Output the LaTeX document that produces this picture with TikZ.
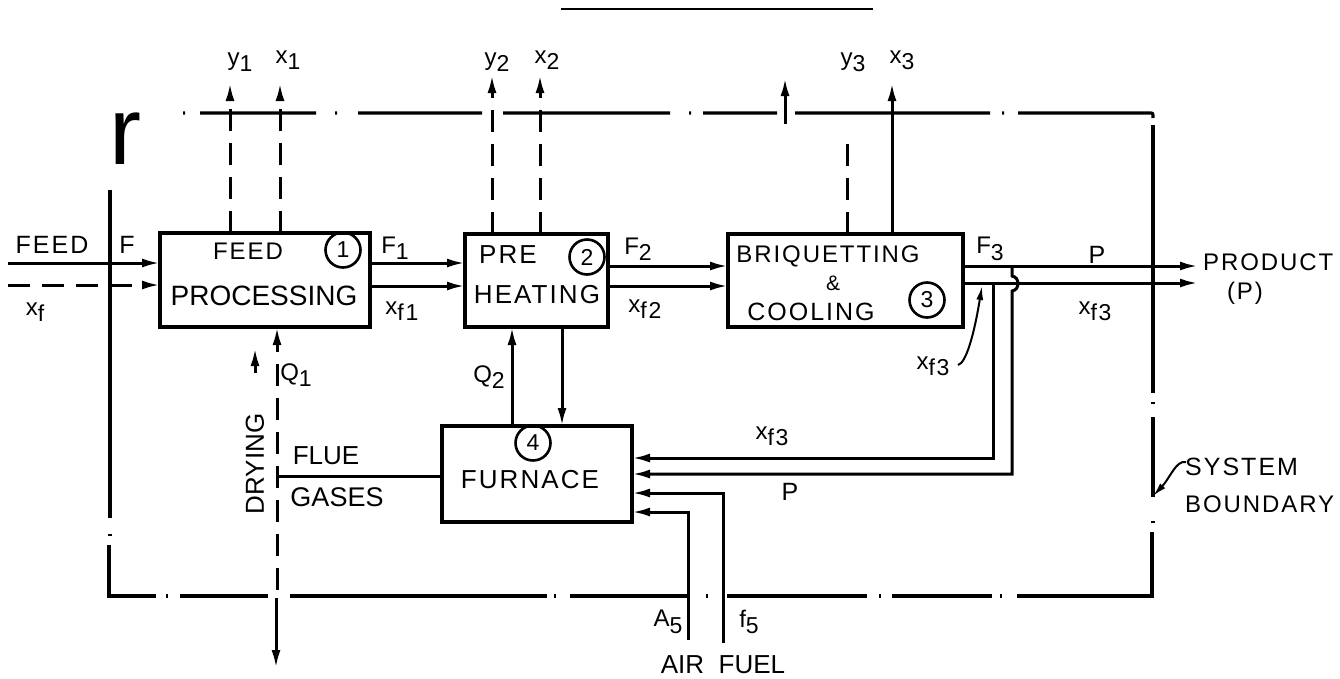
\documentclass[tikz,border=0pt]{standalone}
\usepackage{fontspec}
\setmainfont{Liberation Sans}
\newfontfamily\stc[LetterSpace=8]{Liberation Sans}
\usetikzlibrary{arrows.meta}
\newcommand{\sbs}[1]{\raisebox{-0.5ex}{\fontsize{23}{23}\selectfont #1}}
\begin{document}
\begin{tikzpicture}[x=1pt,y=-1pt,
  box/.style={draw,line width=3.2pt,inner sep=0,outer sep=0,anchor=north west},
  ln/.style={line width=3pt},
  arr/.style={line width=3pt,-{Latex[length=18pt,width=9pt]}},
  arrd/.style={arr,dash pattern=on 22pt off 12pt},
  lnd/.style={ln,dash pattern=on 22pt off 12pt},
  bnd/.style={line width=3.2pt},
  stxt/.style={font=\stc\fontsize{24}{24}\selectfont,inner sep=0},
  atxt/.style={font=\fontsize{28}{28}\selectfont,inner sep=0},
  num/.style={circle,draw,line width=2.6pt,minimum size=35pt,inner sep=0,font=\stc\fontsize{23}{23}\selectfont}]
\useasboundingbox (0,0) rectangle (1340,678);

% stray line at top
\draw[line width=2pt] (561,9) -- (873,9);

% boxes
\node[box,minimum width=210pt,minimum height=94pt] (b1) at (160,233) {};
\node[box,minimum width=143pt,minimum height=93pt] (b2) at (465,234) {};
\node[box,minimum width=235pt,minimum height=93pt] (b3) at (728,234) {};
\node[box,minimum width=190pt,minimum height=96pt] (b4) at (442,426) {};

% box texts
\node[stxt,font=\stc\fontsize{24}{24}\selectfont] (t1a) at (248,251) {FEED};
\node[atxt] (t1b) at (264,296) {PROCESSING};
\node[num] (c1) at (343,250) {1};
\node[stxt,font=\stc\fontsize{26}{26}\selectfont] (t2a) at (508,255) {PRE};
\node[stxt,font=\stc\fontsize{26}{26}\selectfont] (t2b) at (537,295) {HEATING};
\node[num] (c2) at (587,257) {2};
\node[stxt,font=\stc\fontsize{24}{24}\selectfont] (t3a) at (828,256) {BRIQUETTING};
\node[stxt,font=\stc\fontsize{21}{21}\selectfont] (t3b) at (833,283) {\&};
\node[stxt,font=\stc\fontsize{25}{25}\selectfont] (t3c) at (811,312) {COOLING};
\node[num] (c3) at (927,300) {3};
\node[num] (c4) at (533,443) {4};
\node[stxt,font=\stc\fontsize{26}{26}\selectfont] (t4) at (530,480) {FURNACE};

% system boundary
\draw[bnd] (183,113)--(185,113) (200,113)--(316,113) (335,113)--(337,113)
  (358,113)--(482,113) (503,113)--(670,113) (689,113)--(691,113)
  (703,113)--(777,113) (795,113)--(990,113) (1002,113)--(1004,113)
  (1018,113)--(1149,113) .. controls (1153,113) .. (1153,118);
\draw[bnd] (1153,125)--(1153,393) (1153,402)--(1153,404) (1153,417)--(1153,497)
  (1153,521)--(1153,523) (1152,532)--(1152,596)--(1017,596)
  (1002,596)--(1000,596) (992,596)--(892,596) (881,596)--(879,596)
  (867,596)--(727,596) (708,596)--(706,596) (688,596)--(570,596)
  (556,596)--(554,596) (547,596)--(290,596) (268,596)--(180,596)
  (168,596)--(166,596) (156,596)--(109,596)--(109,545)
  (110,536)--(110,534) (110,518)--(110,190);
\node[font=\fontsize{96}{96}\selectfont,inner sep=0] (rr) at (125,139) {r};

% coordinates
\coordinate (feedA) at (8,263);
\coordinate (feedB) at (8,285);
\coordinate (y1t) at (230,83);
\coordinate (x1t) at (280,83);
\coordinate (y2t) at (492,75);
\coordinate (x2t) at (540,75);
\coordinate (y3t) at (785,78);
\coordinate (y3b) at (785,124);
\coordinate (y3d) at (847,133);
\coordinate (x3t) at (892,83);
\coordinate (lv1) at (0,263);
\coordinate (lv2) at (0,286);
\coordinate (lv3) at (0,266);
\coordinate (lv4) at (0,283);
\coordinate (pA) at (1198,266);
\coordinate (pB) at (1198,283);
\coordinate (q1m) at (277,590);
\coordinate (q1s) at (276,598);
\coordinate (q1e) at (276,668);
\coordinate (dr1) at (255,373);
\coordinate (dr2) at (255,348);
\coordinate (flue) at (278,476);
\coordinate (q2x) at (512,0);
\coordinate (dnx) at (562,0);
\coordinate (r1) at (993,283);
\coordinate (r2) at (1012,266);
\coordinate (fy1) at (0,458);
\coordinate (fy2) at (0,474);
\coordinate (fy3) at (0,493);
\coordinate (fy4) at (0,512);
\coordinate (air) at (688,640);
\coordinate (fuel) at (723,643);
\coordinate (xa) at (958,365);
\coordinate (xat) at (982,286);
\coordinate (sba) at (1186,462);
\coordinate (sbt) at (1153,496);

% feed inputs
\draw[arr] (feedA) -- (b1.west |- feedA);
\draw[arrd] (feedB) -- (b1.west |- feedB);
\node[stxt,font=\stc\fontsize{25}{25}\selectfont] (lfeed) at (52,245) {FEED};
\node[stxt,font=\stc\fontsize{25}{25}\selectfont] (lF) at (127,245) {F};
\node[stxt] (lxf) at (35,312) {x\sbs{f}};

% top outputs
\draw[arrd] (b1.north -| y1t) -- (y1t);
\draw[arrd] (b1.north -| x1t) -- (x1t);
\draw[arrd] (b2.north -| y2t) -- (y2t);
\draw[arrd] (b2.north -| x2t) -- (x2t);
\draw[lnd] (b3.north -| y3d) -- (y3d);
\draw[arr] (y3b) -- (y3t);
\draw[arr] (b3.north -| x3t) -- (x3t);
\node[stxt] (ly1) at (240,62) {y\sbs{1}};
\node[stxt] (lx1) at (288,60) {x\sbs{1}};
\node[stxt] (ly2) at (497,62) {y\sbs{2}};
\node[stxt] (lx2) at (547,60) {x\sbs{2}};
\node[stxt] (ly3) at (853,62) {y\sbs{3}};
\node[stxt] (lx3) at (902,60) {x\sbs{3}};

% main flows
\draw[arr] (b1.east |- lv1) -- (b2.west |- lv1);
\draw[arr] (b1.east |- lv2) -- (b2.west |- lv2);
\node[stxt] (lF1) at (395,248) {F\sbs{1}};
\node[stxt] (lxf1) at (402,311) {x\sbs{f1}};
\draw[arr] (b2.east |- lv3) -- (b3.west |- lv3);
\draw[arr] (b2.east |- lv2) -- (b3.west |- lv2);
\node[stxt] (lF2) at (638,249) {F\sbs{2}};
\node[stxt] (lxf2) at (645,309) {x\sbs{f2}};
\draw[arr] (b3.east |- lv3) -- (pA);
\draw[arr] (b3.east |- lv4) -- (pB);
\node[stxt] (lF3) at (990,249) {F\sbs{3}};
\node[stxt,font=\stc\fontsize{25}{25}\selectfont] (lP) at (1097,255) {P};
\node[stxt] (lxf3) at (1095,311) {x\sbs{f3}};
\node[stxt,anchor=west] (lprod) at (1203,262) {PRODUCT};
\node[stxt] (lprodp) at (1245,293) {(P)};

% Q1 / drying
\draw[arrd] (q1m) -- (b1.south -| q1m);
\draw[arr] (q1s) -- (q1e);
\draw[arr] (dr1) -- (dr2);
\node[stxt] (lQ1) at (296,375) {Q\sbs{1}};
\node[atxt,font=\fontsize{26}{26}\selectfont,rotate=90] (ldry) at (255,464) {DRYING};

% flue gases
\draw[ln] (flue) -- (flue -| b4.west);
\node[atxt,font=\fontsize{26}{26}\selectfont] (lflue) at (326,456) {FLUE};
\node[atxt,font=\fontsize{27}{27}\selectfont] (lgas) at (337,497) {GASES};

% Q2 and return
\draw[arr] (b4.north -| q2x) -- (b2.south -| q2x);
\draw[arr] (b2.south -| dnx) -- (b4.north -| dnx);
\node[stxt] (lQ2) at (489,377) {Q\sbs{2}};

% recycle loops
\draw[arr] (r1) |- (b4.east |- fy1);
\draw[arr] (r2) -- (1012,276) .. controls (1020,277) and (1020,290) .. (1012,291) -- (1012,474) -- (b4.east |- fy2);
\node[stxt] (lxf3b) at (772,436) {x\sbs{f3}};
\node[stxt,font=\stc\fontsize{25}{25}\selectfont] (lPb) at (790,492) {P};
\draw[arr] (fuel) |- (b4.east |- fy3);
\draw[arr] (air) |- (b4.east |- fy4);
\node[stxt] (lA5) at (668,622) {A\sbs{5}};
\node[stxt] (lf5) at (749,622) {f\sbs{5}};
\node[atxt,font=\fontsize{26}{26}\selectfont] (lairf) at (723,665) {AIR\ \ FUEL};

% annotations
\node[stxt] (lxf3c) at (933,366) {x\sbs{f3}};
\draw[line width=2pt,-{Latex[length=14pt,width=7pt]}] (xa) .. controls (966,363) and (974,335) .. (xat);
\node[stxt,font=\stc\fontsize{25}{25}\selectfont,anchor=west] (lsys) at (1185,467) {SYSTEM};
\node[stxt,anchor=west] (lbnd) at (1185,504) {BOUNDARY};
\draw[line width=2pt,-{Latex[length=14pt,width=7pt]}] (sba) .. controls (1176,460) and (1170,478) .. (sbt);
\end{tikzpicture}
\end{document}
